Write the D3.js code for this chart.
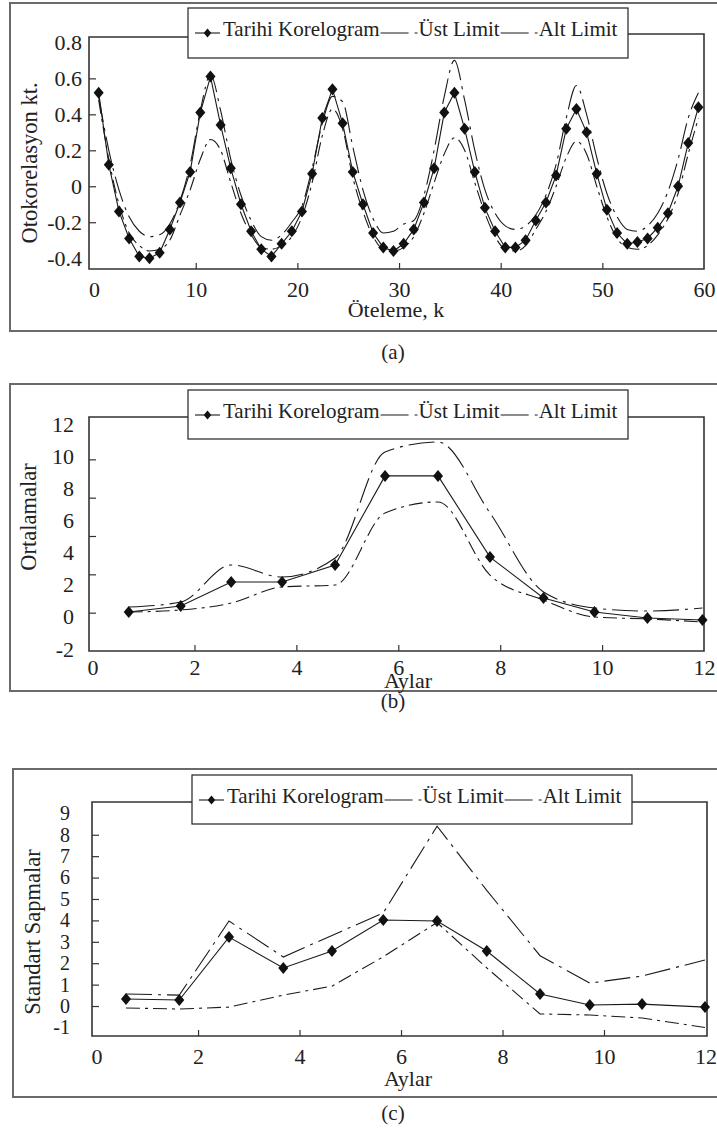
<!DOCTYPE html>
<html>
<head>
<meta charset="utf-8">
<script src="https://cdn.jsdelivr.net/npm/d3@7"></script>
<style>
  body { margin: 0; background: #fff; }
  text { font-family: "Liberation Serif", "Times New Roman", serif; fill: #222; }
</style>
</head>
<body>
<div id="chart"></div>
<script>
const width = 717;
const height = 1131;

// ---- (a) Otokorelasyon ----
const lagA = d3.range(60).map(k => k + 0.45);
const korelogramA = [0.52, 0.12, -0.14, -0.29, -0.39, -0.40, -0.37, -0.24, -0.09, 0.08,
    0.41, 0.61, 0.34, 0.10, -0.10, -0.25, -0.35, -0.39, -0.32, -0.25,
    -0.14, 0.07, 0.38, 0.54, 0.35, 0.08, -0.10, -0.26, -0.34, -0.36,
    -0.32, -0.24, -0.09, 0.10, 0.41, 0.52, 0.32, 0.08, -0.12, -0.25,
    -0.34, -0.34, -0.30, -0.19, -0.09, 0.06, 0.32, 0.43, 0.30, 0.07,
    -0.13, -0.26, -0.32, -0.31, -0.29, -0.23, -0.15, 0.00, 0.24, 0.44];
const ustA = [0.50, 0.20, -0.02, -0.17, -0.25, -0.28, -0.27, -0.21, -0.08, 0.12,
    0.42, 0.62, 0.42, 0.15, -0.05, -0.19, -0.28, -0.30, -0.27, -0.20,
    -0.11, 0.10, 0.35, 0.50, 0.47, 0.22, -0.02, -0.18, -0.26, -0.25,
    -0.21, -0.19, -0.05, 0.20, 0.50, 0.70, 0.48, 0.20, -0.02, -0.15,
    -0.22, -0.24, -0.22, -0.16, -0.05, 0.12, 0.38, 0.56, 0.40, 0.16,
    -0.04, -0.17, -0.24, -0.25, -0.22, -0.15, -0.03, 0.15, 0.38, 0.52];
const altA = [0.48, 0.15, -0.10, -0.26, -0.33, -0.36, -0.35, -0.30, -0.16, -0.02,
    0.15, 0.26, 0.20, 0.02, -0.15, -0.27, -0.34, -0.35, -0.33, -0.28,
    -0.17, 0.02, 0.28, 0.43, 0.32, 0.05, -0.14, -0.28, -0.35, -0.36,
    -0.34, -0.28, -0.15, 0.02, 0.18, 0.27, 0.20, 0.02, -0.15, -0.28,
    -0.35, -0.36, -0.33, -0.24, -0.14, 0.00, 0.16, 0.25, 0.18, 0.00,
    -0.17, -0.29, -0.34, -0.35, -0.33, -0.27, -0.18, -0.04, 0.18, 0.38];
const xTickLabelsA = [0, 10, 20, 30, 40, 50, 60];
const xTickMarksA = [10, 20, 30, 40, 50];
const yTickLabelsA = [-0.4, -0.2, 0, 0.2, 0.4, 0.6, 0.8];
const yTickMarksA = [-0.2, 0, 0.2, 0.4, 0.6];

// ---- (b) Ortalamalar ----
const ayB = [0.71, 1.73, 2.72, 3.72, 4.76, 5.74, 6.78, 7.80, 8.85, 9.85, 10.89, 11.97];
const ortalamaB = [0.30, 0.68, 2.17, 2.17, 3.23, 8.77, 8.77, 3.72, 1.17, 0.30, -0.07, -0.20];
const ustB = [0.61, 0.92, 3.23, 2.48, 3.66, 10.26, 10.88, 6.46, 1.55, 0.55, 0.36, 0.55];
const altB = [0.30, 0.43, 0.86, 1.86, 1.98, 6.46, 7.15, 2.60, 1.05, -0.01, -0.13, -0.32];
const xTickLabelsB = [0, 2, 4, 6, 8, 10, 12];
const xTickMarksB = [2, 4, 6, 8, 10];
const yTickLabelsB = [-2, 0, 2, 4, 6, 8, 10, 12];
const yTickMarksB = [0, 2, 4, 6, 8];   // marks sit on a different spacing than the labels

// ---- (c) Standart sapmalar ----
const ayC = [0.58, 1.63, 2.61, 3.68, 4.64, 5.65, 6.71, 7.69, 8.74, 9.72, 10.75, 11.99];
const sapmaC = [0.33, 0.28, 3.22, 1.78, 2.57, 4.02, 3.97, 2.57, 0.56, 0.05, 0.09, -0.05];
const ustC = [0.56, 0.51, 3.97, 2.29, 3.30, 4.35, 8.40, 5.40, 2.35, 1.07, 1.40, 2.15];
const altC = [-0.09, -0.14, -0.05, 0.51, 0.93, 2.30, 3.90, 1.78, -0.37, -0.42, -0.56, -1.00];
const xTickLabelsC = [0, 2, 4, 6, 8, 10, 12];
const xTickMarksC = [2, 4, 6, 8, 10];
const yTickLabelsC = [-1, 0, 1, 2, 3, 4, 5, 6, 7, 8, 9];
const yTickMarksC = [0, 1, 2, 3, 4, 5, 6, 7, 8];

const legendNames = ["Tarihi Korelogram", "Üst Limit", "Alt Limit"];
const dashUst = "26,6,3,6";
const dashAlt = "14,5,3,5";

const svg = d3.select("#chart")
    .append("svg")
    .attr("width", width)
    .attr("height", height);

// diamond marker, size = full height
const diamondType = {
    draw(ctx, size) {
        const h = size / 2, w = size * 0.42;
        ctx.moveTo(0, -h);
        ctx.lineTo(w, 0);
        ctx.lineTo(0, h);
        ctx.lineTo(-w, 0);
        ctx.closePath();
    }
};

const panels = [
    {
        frame: { x0: 10, y0: 3, y1: 331 },
        plot: { left: 89, right: 704, top: 37, bottom: 269, rightTop: 34 },
        legend: { x0: 188, x1: 628, y0: 8, y1: 58 },
        xDomain: [-0.5, 60], yDomain: [-0.46, 0.83],
        xs: lagA, series: [korelogramA, ustA, altA],
        xTickLabels: xTickLabelsA, xTickMarks: xTickMarksA,
        yTickLabels: yTickLabelsA, yTickMarks: yTickMarksA,
        xLabelPad: 12, yLabelPad: 7, yLabelSize: 22, smoothLimits: true,
        xTitle: "Öteleme, k", xTitleX: 396, xTitleY: 317,
        yTitle: "Otokorelasyon kt.", yTitleX: 37, yTitleY: 163,
        caption: "(a)", captionY: 359
    },
    {
        frame: { x0: 10, y0: 384, y1: 691 },
        plot: { left: 89, right: 704, top: 417, bottom: 651, rightTop: 417 },
        legend: { x0: 188, x1: 628, y0: 390, y1: 439 },
        xDomain: [-0.07, 12.0], yDomain: [-2, 12], yRange: [649, 424],
        yMarkDomain: [-2, 10], yMarkRange: [651, 421],
        xs: ayB, series: [ortalamaB, ustB, altB],
        xTickLabels: xTickLabelsB, xTickMarks: xTickMarksB,
        yTickLabels: yTickLabelsB, yTickMarks: yTickMarksB,
        xLabelPad: 8, yLabelPad: 15, yLabelSize: 22, smoothLimits: true,
        xTitle: "Aylar", xTitleX: 408, xTitleY: 688,
        yTitle: "Ortalamalar", yTitleX: 36, yTitleY: 517,
        caption: "(b)", captionY: 708
    },
    {
        frame: { x0: 13, y0: 769, y1: 1097 },
        plot: { left: 92, right: 707, top: 802, bottom: 1036, rightTop: 802 },
        legend: { x0: 192, x1: 632, y0: 775, y1: 824 },
        xDomain: [-0.09, 12.03], yDomain: [-1.40, 9.53],
        xs: ayC, series: [sapmaC, ustC, altC],
        xTickLabels: xTickLabelsC, xTickMarks: xTickMarksC,
        yTickLabels: yTickLabelsC, yTickMarks: yTickMarksC,
        xLabelPad: 12, yLabelPad: 22, yLabelSize: 20, smoothLimits: false,
        xTitle: "Aylar", xTitleX: 408, xTitleY: 1086,
        yTitle: "Standart Sapmalar", yTitleX: 40, yTitleY: 932,
        caption: "(c)", captionY: 1120
    }
];

const fmt = d => String(d);

panels.forEach(p => {
    const g = svg.append("g");
    const pl = p.plot;

    // outer frame (runs off the right edge)
    g.append("rect")
        .attr("x", p.frame.x0)
        .attr("y", p.frame.y0)
        .attr("width", width + 20 - p.frame.x0)
        .attr("height", p.frame.y1 - p.frame.y0)
        .attr("fill", "none")
        .attr("stroke", "#6a6a6a")
        .attr("stroke-width", 2);

    const x = d3.scaleLinear().domain(p.xDomain).range([pl.left, pl.right]);
    const y = d3.scaleLinear().domain(p.yDomain).range(p.yRange || [pl.bottom, pl.top]);
    const yMark = p.yMarkDomain
        ? d3.scaleLinear().domain(p.yMarkDomain).range(p.yMarkRange)
        : y;

    // tick labels
    const xLab = g.append("g")
        .attr("transform", `translate(0,${pl.bottom})`)
        .call(d3.axisBottom(x).tickValues(p.xTickLabels).tickSize(0).tickPadding(p.xLabelPad).tickFormat(fmt));
    const yLab = g.append("g")
        .attr("transform", `translate(${pl.left},0)`)
        .call(d3.axisLeft(y).tickValues(p.yTickLabels).tickSize(0).tickPadding(p.yLabelPad).tickFormat(fmt));
    xLab.select(".domain").remove();
    yLab.select(".domain").remove();
    xLab.selectAll("text")
        .style("font-family", '"Liberation Serif", serif')
        .style("font-size", "22px")
        .attr("fill", "#2a2a2a");
    yLab.selectAll("text")
        .style("font-family", '"Liberation Serif", serif')
        .style("font-size", p.yLabelSize + "px")
        .attr("fill", "#2a2a2a");

    // inward tick marks
    const xMarks = g.append("g")
        .attr("transform", `translate(0,${pl.bottom})`)
        .call(d3.axisBottom(x).tickValues(p.xTickMarks).tickSizeInner(-6).tickSizeOuter(0).tickFormat(""));
    const yMarks = g.append("g")
        .attr("transform", `translate(${pl.left},0)`)
        .call(d3.axisLeft(yMark).tickValues(p.yTickMarks).tickSizeInner(-7).tickSizeOuter(0).tickFormat(""));
    [xMarks, yMarks].forEach(a => {
        a.select(".domain").remove();
        a.selectAll("line").attr("stroke", "#333").attr("stroke-width", 1.2);
    });

    // axis box, open where the legend sits
    g.append("path")
        .attr("d", `M${p.legend.x0},${pl.top}H${pl.left}V${pl.bottom}H${pl.right}V${pl.rightTop}H${p.legend.x1}`)
        .attr("fill", "none")
        .attr("stroke", "#333")
        .attr("stroke-width", 1.6);

    // series
    const styles = [
        { dash: null, smooth: false },
        { dash: dashUst, smooth: p.smoothLimits },
        { dash: dashAlt, smooth: p.smoothLimits }
    ];
    p.series.forEach((vals, i) => {
        const pts = vals.map((v, j) => [p.xs[j], v]);
        const line = d3.line()
            .x(d => x(d[0]))
            .y(d => y(d[1]))
            .curve(styles[i].smooth ? d3.curveMonotoneX : d3.curveLinear);
        g.append("path")
            .datum(pts)
            .attr("d", line)
            .attr("fill", "none")
            .attr("stroke", "#1a1a1a")
            .attr("stroke-width", 1.1)
            .attr("stroke-dasharray", styles[i].dash);
    });

    g.selectAll(".pt")
        .data(p.series[0].map((v, j) => [p.xs[j], v]))
        .join("path")
        .attr("class", "pt")
        .attr("transform", d => `translate(${x(d[0])},${y(d[1])})`)
        .attr("d", d3.symbol().type(diamondType).size(12))
        .attr("fill", "#111");

    // legend
    const lg = p.legend;
    g.append("rect")
        .attr("x", lg.x0)
        .attr("y", lg.y0)
        .attr("width", lg.x1 - lg.x0)
        .attr("height", lg.y1 - lg.y0)
        .attr("fill", "#fff")
        .attr("stroke", "#222")
        .attr("stroke-width", 1.2);

    const ly = lg.y0 + 25;
    const baseY = lg.y0 + 28;
    let cursor = lg.x0 + 7;

    g.append("line")
        .attr("x1", cursor).attr("x2", cursor + 25)
        .attr("y1", ly).attr("y2", ly)
        .attr("stroke", "#1a1a1a").attr("stroke-width", 1.1);
    g.append("path")
        .attr("transform", `translate(${cursor + 12.5},${ly})`)
        .attr("d", d3.symbol().type(diamondType).size(9))
        .attr("fill", "#111");
    cursor += 28;

    legendNames.forEach((name, i) => {
        if (i > 0) {
            g.append("line")
                .attr("x1", cursor).attr("x2", cursor + 38)
                .attr("y1", ly).attr("y2", ly)
                .attr("stroke", "#1a1a1a").attr("stroke-width", 1.1)
                .attr("stroke-dasharray", "28,6,3,6");
            cursor += 38;
        }
        const t = g.append("text")
            .attr("x", cursor)
            .attr("y", baseY)
            .style("font-size", "21px")
            .text(name);
        cursor += t.node().getComputedTextLength() + 1;
    });

    // titles
    g.append("text")
        .attr("x", p.xTitleX)
        .attr("y", p.xTitleY)
        .attr("text-anchor", "middle")
        .style("font-size", "22px")
        .text(p.xTitle);

    g.append("text")
        .attr("transform", `translate(${p.yTitleX},${p.yTitleY}) rotate(-90)`)
        .attr("text-anchor", "middle")
        .style("font-size", "22.5px")
        .text(p.yTitle);

    g.append("text")
        .attr("x", 393)
        .attr("y", p.captionY)
        .attr("text-anchor", "middle")
        .style("font-size", "21px")
        .text(p.caption);
});
</script>
</body>
</html>
